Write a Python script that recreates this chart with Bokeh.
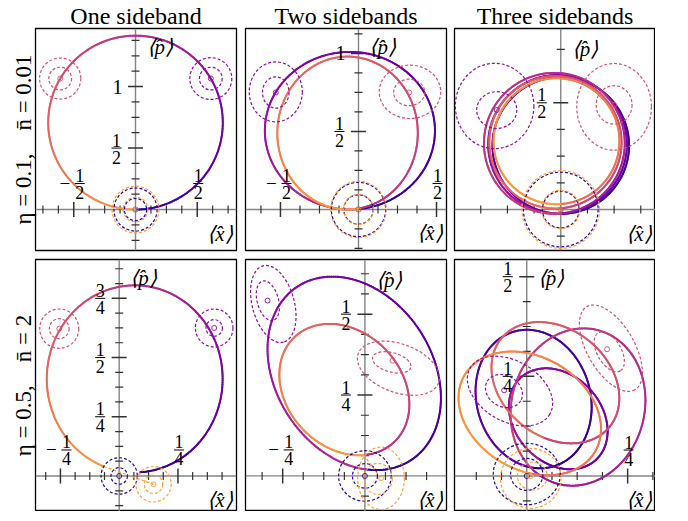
import numpy as np
from bokeh.plotting import figure
from bokeh.layouts import column, row
from bokeh.models import Title, Range1d
from bokeh.core.properties import value
from bokeh.palettes import Plasma256
from bokeh.embed import file_html
from bokeh.resources import INLINE

SERIF = "Liberation Serif"

# ---------------- data ----------------
COL_TITLES = ["One sideband", "Two sidebands", "Three sidebands"]
ROW_LABELS = ["η = 0.1,\u2002\u2002n̄ = 0.01", "η = 0.5,\u2002\u2002n̄ = 2"]

X_RANGES = [(-0.810, 0.818), (-0.724, 0.564), (-0.498, 0.444),
            (-0.356, 0.499), (-0.363, 0.248), (-0.179, 0.319)]
Y_RANGES = [(-0.333, 1.472), (-0.263, 1.160), (-0.192, 0.848),
            (-0.150, 0.914), (-0.110, 0.669), (-0.089, 0.543)]

TICK_STEP = [1 / 8, 1 / 8, 1 / 8, 1 / 16, 1 / 16, 1 / 16]
X_TICK_SPAN = [(-0.75, 0.75), (-0.625, 0.5), (-0.375, 0.375),
               (-0.3125, 0.4375), (-0.3125, 0.1875), (-0.125, 0.3125)]
Y_TICK_SPAN = [(-0.25, 1.375), (-0.25, 1.125), (-0.125, 0.75),
               (-0.125, 0.875), (-0.0625, 0.625), (-0.0625, 0.5)]
X_TICK_LABELS = [["-1/2", "1/2"], ["-1/2", "1/2"], [], ["-1/4", "1/4"], ["-1/4"], ["1/4"]]
Y_TICK_LABELS = [["1/2", "1"], ["1/2", "1"], ["1/2"], ["1/4", "1/2", "3/4"], ["1/4", "1/2"], ["1/4", "1/2"]]
P_LABEL_Y = [1.325, 1.04, 0.754, 0.8375, 0.607, 0.4975]

# trajectory loops (ellipses): centre, semi-axes, tilt (deg), skipped arc at start/end (deg)
LOOP_CX = [[0.0], [-0.055, -0.07], [0.0, -0.015, -0.03, -0.025, -0.02], [0.066],
           [-0.0325, -0.0625], [0.017, 0.078, 0.127, 0.071, 0.0075]]
LOOP_CY = [[0.707], [0.505, 0.49], [0.30, 0.305, 0.31, 0.315, 0.32], [0.41],
           [0.317, 0.267], [0.193, 0.1435, 0.173, 0.234, 0.157]]
LOOP_A = [[0.707], [0.545, 0.45], [0.32, 0.325, 0.33, 0.31, 0.295], [0.374],
          [0.319, 0.222], [0.176, 0.139, 0.199, 0.174, 0.188]]
LOOP_B = [[0.707], [0.505, 0.49], [0.32, 0.325, 0.33, 0.31, 0.295], [0.395],
          [0.239, 0.176], [0.141, 0.108, 0.165, 0.134, 0.141]]
LOOP_TILT = [[0], [0, 0], [0, 0, 0, 0, 0], [0], [-58.3, -48.4], [-74.4, -49, 76.4, -40.5, -31.4]]
LOOP_SKIP_START = [[0], [0, 0], [0, 0, 0, 0, 0], [13], [0, 0], [0, 0, 0, 0, 0]]
LOOP_SKIP_END = [[0], [0, 0], [0, 0, 0, 0, 0], [11], [0, 0], [0, 0, 0, 0, 0]]
JUMP = [False, False, False, True, True, False]

# Wigner contours: [blue outer, blue inner, purple outer, purple inner, pink outer, pink inner, orange outer, orange inner]
CONT_X = [[0, 0, 0.61, 0.61, -0.61, -0.61, 0, 0],
          [0, 0, -0.53, -0.53, 0.33, 0.325, 0, 0],
          [0, 0, -0.31, -0.30, 0.25, 0.25, 0, 0],
          [0, 0, 0.404, 0.404, -0.255, -0.255, 0.146, 0.146],
          [0, 0, -0.2785, -0.295, 0.102, 0.0815, 0.049, 0.04],
          [0, 0, -0.0415, -0.0565, 0.2085, 0.2045, 0.01, 0.014]]
CONT_Y = [[0, 0, 1.065, 1.065, 1.065, 1.065, 0, 0],
          [0, 0, 0.754, 0.75, 0.754, 0.75, 0, 0],
          [0, 0, 0.485, 0.466, 0.481, 0.49, 0, 0],
          [0, 0, 0.625, 0.625, 0.622, 0.622, -0.035, -0.035],
          [0, 0, 0.5315, 0.5415, 0.333, 0.351, -0.0075, -0.009],
          [0.005, 0.004, 0.213, 0.213, 0.3205, 0.3115, -0.006, 0]]
CONT_RX = [[0.175, 0.09, 0.17, 0.092, 0.167, 0.092, 0.19, 0.10],
           [0.174, 0.094, 0.17, 0.085, 0.197, 0.10, 0.178, 0.096],
           [0.175, 0.086, 0.184, 0.094, 0.175, 0.084, 0.182, 0.09],
           [0.077, 0.035, 0.08, 0.035, 0.083, 0.042, 0.075, 0.039],
           [0.08, 0.038, 0.12, 0.062, 0.13, 0.06, 0.071, 0.043],
           [0.083, 0.04, 0.114, 0.048, 0.119, 0.0545, 0.075, 0.037]]
CONT_RY = [[0.175, 0.09, 0.17, 0.092, 0.167, 0.092, 0.19, 0.10],
           [0.174, 0.094, 0.192, 0.10, 0.171, 0.085, 0.18, 0.096],
           [0.175, 0.086, 0.20, 0.086, 0.203, 0.09, 0.182, 0.09],
           [0.077, 0.035, 0.08, 0.035, 0.083, 0.042, 0.075, 0.039],
           [0.078, 0.038, 0.065, 0.033, 0.075, 0.03, 0.0965, 0.048],
           [0.077, 0.04, 0.076, 0.039, 0.059, 0.03, 0.075, 0.035]]
CONT_ANG = [[0] * 8, [0] * 8, [0] * 8, [0] * 8,
            [0, 0, -75, -75, -20, -15, 0, 0],
            [0, 0, -30, -30, -60, -60, 0, 0]]
TINY_X = [[0, 0.61, -0.61, 0], [0, -0.53, 0.325, 0], [0, -0.30, 0.25, 0],
          [0, 0.404, -0.255, 0.146], [0, -0.296, 0.084, 0.049], [0, -0.056, 0.199, 0.01]]
TINY_Y = [[0, 1.065, 1.065, 0], [0, 0.75, 0.75, 0], [0, 0.466, 0.49, 0],
          [0, 0.625, 0.622, -0.035], [0, 0.542, 0.356, -0.007], [0, 0.215, 0.318, 0]]
CONTOUR_TIMES = [0.0, 1 / 3, 2 / 3, 1.0]

# ---------------- style / layout ----------------
FRAME_W = 201
FRAME_H = [222, 252]
BORDER_L = [35, 5, 5]
BORDER_R = [4, 3, 0]
BORDER_T = [22, 5]
BORDER_B = [4, 0]
P_LO, P_HI = 0.05, 0.78


def cmap(t):
    return Plasma256[int(round((P_LO + (P_HI - P_LO) * t) * 255))]


def parse(s):
    neg = s.startswith("-")
    s2 = s.lstrip("-")
    sign = -1 if neg else 1
    if "/" in s2:
        n, d = s2.split("/")
        return neg, n, d, sign * int(n) / int(d)
    return neg, s2, None, sign * float(s2)


def ellipse_xy(cx, cy, a, b, tilt, phis):
    th = np.radians(tilt)
    u = a * np.sin(phis)
    v = -b * np.cos(phis)
    return cx + u * np.cos(th) - v * np.sin(th), cy + u * np.sin(th) + v * np.cos(th)


def make_panel(i):
    r, c = divmod(i, 3)
    x0, x1 = X_RANGES[i]
    y0, y1 = Y_RANGES[i]
    fh = FRAME_H[r]
    kx = FRAME_W / (x1 - x0)
    ky = fh / (y1 - y0)
    p = figure(frame_width=FRAME_W, frame_height=fh,
               x_range=Range1d(x0, x1), y_range=Range1d(y0, y1),
               x_axis_location=None, y_axis_location=None,
               output_backend="svg", toolbar_location=None,
               min_border_left=BORDER_L[c], min_border_right=BORDER_R[c],
               min_border_top=BORDER_T[r], min_border_bottom=BORDER_B[r])
    p.grid.visible = False
    p.outline_line_color = "black"
    p.outline_line_width = 1.3
    p.background_fill_color = "white"
    p.border_fill_color = "white"

    # axes through the origin
    p.segment(x0=[x0, 0], y0=[0, y0], x1=[x1, 0], y1=[0, y1], line_color="#858585", line_width=1.4)
    step = TICK_STEP[i]
    xt = np.arange(X_TICK_SPAN[i][0], X_TICK_SPAN[i][1] + step / 2, step)
    yt = np.arange(Y_TICK_SPAN[i][0], Y_TICK_SPAN[i][1] + step / 2, step)
    xmaj = [parse(s)[3] for s in X_TICK_LABELS[i]]
    ymaj = [parse(s)[3] for s in Y_TICK_LABELS[i]]
    xmin_t = [t for t in xt if abs(t) > 1e-9 and all(abs(t - m) > 1e-9 for m in xmaj)]
    ymin_t = [t for t in yt if abs(t) > 1e-9 and all(abs(t - m) > 1e-9 for m in ymaj)]
    tc = "#333333"
    p.scatter(x=xmin_t, y=[0] * len(xmin_t), marker="dash", size=8, angle=np.pi / 2, line_color=tc, line_width=1.2)
    p.scatter(x=xmaj, y=[0] * len(xmaj), marker="dash", size=15, angle=np.pi / 2, line_color=tc, line_width=1.5)
    p.scatter(x=[0] * len(ymin_t), y=ymin_t, marker="dash", size=8, line_color=tc, line_width=1.2)
    p.scatter(x=[0] * len(ymaj), y=ymaj, marker="dash", size=15, line_color=tc, line_width=1.5)

    # trajectory: loops drawn one after the other, colour running along the whole path
    loops = len(LOOP_CX[i])
    npts = 260
    total = loops * (npts - 1)
    last = None
    for k in range(loops):
        phis = np.linspace(0, 2 * np.pi, 721)
        ex, ey = ellipse_xy(LOOP_CX[i][k], LOOP_CY[i][k], LOOP_A[i][k], LOOP_B[i][k], LOOP_TILT[i][k], phis)
        pn = phis[np.argmin(ex ** 2 + ey ** 2)]
        ph = np.linspace(pn + np.radians(LOOP_SKIP_START[i][k]),
                         pn + 2 * np.pi - np.radians(LOOP_SKIP_END[i][k]), npts)
        lx, ly = ellipse_xy(LOOP_CX[i][k], LOOP_CY[i][k], LOOP_A[i][k], LOOP_B[i][k], LOOP_TILT[i][k], ph)
        cols = [cmap((k * (npts - 1) + j) / (total - 1)) for j in range(npts - 1)]
        p.segment(x0=lx[:-1], y0=ly[:-1], x1=lx[1:], y1=ly[1:], line_color=cols, line_width=2.0,
                  line_cap="round")
        last = (lx[-1], ly[-1])
    if JUMP[i]:
        p.line(x=[last[0], TINY_X[i][3]], y=[last[1], TINY_Y[i][3]], line_color=cmap(1.0),
               line_width=1.3, line_dash="3 2")

    # Wigner contours
    ccols = [cmap(t) for t in CONTOUR_TIMES]
    ecol = [ccols[j // 2] for j in range(8)]
    p.ellipse(x=CONT_X[i], y=CONT_Y[i], width=[2 * v for v in CONT_RX[i]], height=[2 * v for v in CONT_RY[i]],
              angle=[np.radians(a) for a in CONT_ANG[i]], fill_alpha=0, line_color=ecol,
              line_width=1.2, line_dash="3 2")
    p.scatter(x=TINY_X[i], y=TINY_Y[i], marker="circle", size=5, fill_alpha=0, line_color=ccols, line_width=0.9)

    # tick labels (fractions)
    fs = "18px"
    for s in X_TICK_LABELS[i]:
        neg, num, den, v = parse(s)
        cx = v + (6 if neg else 1) / kx
        by = 26 / ky
        p.text(x=[cx, cx], y=[by, by], text=[num, den], y_offset=[-8, 9],
               text_font=value(SERIF), text_font_size=fs, text_align="center", text_baseline="middle",
               text_color="black")
        p.segment(x0=[cx - 5 / kx], y0=[by], x1=[cx + 5 / kx], y1=[by], line_color="black", line_width=1)
        if neg:
            p.text(x=[cx - 15 / kx], y=[by], text=["−"], text_font=value(SERIF), text_font_size="19px",
                   text_align="center", text_baseline="middle", text_color="black")
    for s in Y_TICK_LABELS[i]:
        neg, num, den, v = parse(s)
        cx = -19 / kx
        if den is None:
            p.text(x=[-18 / kx], y=[v], text=[num], text_font=value(SERIF), text_font_size="20px",
                   text_align="center", text_baseline="middle", text_color="black")
            continue
        p.text(x=[cx, cx], y=[v, v], text=[num, den], y_offset=[-8, 9],
               text_font=value(SERIF), text_font_size=fs, text_align="center", text_baseline="middle",
               text_color="black")
        p.segment(x0=[cx - 5 / kx], y0=[v], x1=[cx + 5 / kx], y1=[v], line_color="black", line_width=1)

    # axis names
    p.text(x=[11 / kx], y=[P_LABEL_Y[i]], text=["⟨p̂⟩"], text_font=value(SERIF), text_font_size="21px",
           text_font_style="italic", text_align="left", text_baseline="middle", text_color="black")
    p.text(x=[x1 - 4 / kx], y=[-24 / ky], text=["⟨x̂⟩"], text_font=value(SERIF), text_font_size="21px",
           text_font_style="italic", text_align="right", text_baseline="middle", text_color="black")

    if r == 0:
        p.add_layout(Title(text=COL_TITLES[c], align="center", text_font=SERIF, text_font_size="24px",
                           text_font_style="normal", standoff=0, text_color="black"), "above")
    if c == 0:
        p.add_layout(Title(text=ROW_LABELS[r], align="center", text_font=SERIF, text_font_size="23px",
                           text_font_style="normal", standoff=0, text_color="black"), "left")
    return p


panels = [make_panel(i) for i in range(6)]
layout = column(row(*panels[:3]), row(*panels[3:]))

open("out.html", "w").write(file_html(layout, INLINE))
